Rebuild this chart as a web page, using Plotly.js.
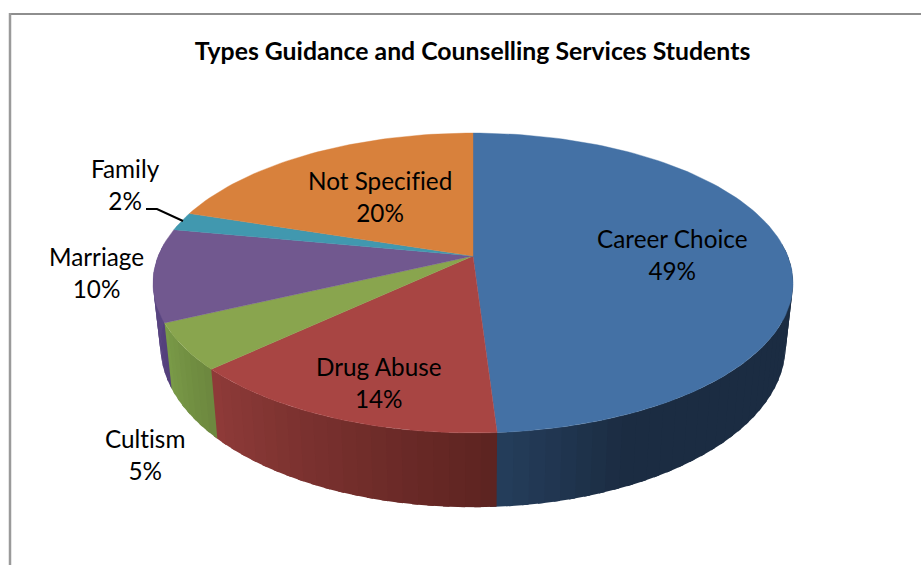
<!DOCTYPE html>
<html>
<head>
<meta charset="utf-8">
<script src="https://cdn.plot.ly/plotly-3.0.1.min.js"></script>
<style>
html,body{margin:0;padding:0;background:#fff}
#chart{width:921px;height:565px}
svg text{font-variant-ligatures:none;font-feature-settings:"liga" 0}
</style>
</head>
<body>
<div id="chart"></div>
<script>
// Survey shares, clockwise from twelve o'clock
const categories = ['Career Choice', 'Drug Abuse', 'Cultism', 'Marriage', 'Family', 'Not Specified'];
const shares = [49, 14, 5, 10, 2, 20];
const chartTitle = 'Types Guidance and Counselling Services Students';

// Slice colours: top face, then side wall at the start and end of each slice
const topColors = ['#4471a5', '#a84543', '#89a54e', '#71588f', '#4198af', '#d8813c'];
const wallStart = [[27, 44, 66], [92, 35, 32], [108, 135, 62], [84, 64, 124], [60, 130, 150], [180, 105, 45]];
const wallEnd = [[37, 62, 92], [143, 59, 57], [122, 155, 72], [92, 72, 132], [60, 130, 150], [180, 105, 45]];
// Fraction of each visible wall that stays flat before its shading ramp begins
const wallRamp = [0.78, 0, 0, 0, 0, 0];

// Label anchors in the chart's pixel-sized data space
const labelX = [672, 379, 145, 96, 125, 380];
const labelY = [254, 382, 454, 272, 184, 196];

// Oblique view of the disc: horizontal radius, vertical foreshortening and perspective
const centerX = 473, topY = 256, bottomY = 317;
const topRx = 314.8, topRy = 145.1, bottomRx = 307.5, bottomRy = 156, persp = 0.18;

function rim(deg, rx, ry, cy) {
  const t = deg * Math.PI / 180, u = Math.sin(t), v = -Math.cos(t), s = 1 / (1 - persp * v);
  return [centerX + rx * u * s, cy + ry * v * s];
}
const topRim = d => rim(d, topRx, topRy, topY);
const bottomRim = d => rim(d, bottomRx, bottomRy, bottomY);
const hex = c => `rgb(${c.map(Math.round).join(',')})`;

const traces = [];
function polygon(points, color, edge) {
  traces.push({
    type: 'scatter', mode: 'lines', fill: 'toself', fillcolor: color,
    x: points.map(p => p[0]), y: points.map(p => p[1]),
    line: { color: color, width: edge }, hoverinfo: 'skip', showlegend: false
  });
}

// Cumulative angle at the edges of each slice
const edges = [0];
shares.forEach((s, i) => edges.push(edges[i] + s * 3.6));

// Side wall as thin shaded strips that overlap the next one, so no seams show
const wallFrom = 85, wallTo = 275, stripDeg = 2.5, overlapDeg = 1;
shares.forEach((_, i) => {
  const a = Math.max(edges[i], wallFrom), b = Math.min(edges[i + 1], wallTo);
  if (b <= a) return;
  const n = Math.max(1, Math.ceil((b - a) / stripDeg));
  for (let k = 0; k < n; k++) {
    const d0 = a + (b - a) * k / n;
    const d1 = Math.min(a + (b - a) * (k + 1) / n + overlapDeg, wallTo);
    const f = Math.max(0, ((k + 0.5) / n - wallRamp[i]) / (1 - wallRamp[i]));
    const c = wallStart[i].map((v, j) => v + (wallEnd[i][j] - v) * f);
    const pts = [];
    for (let m = 0; m <= 3; m++) pts.push(topRim(d0 + (d1 - d0) * m / 3));
    for (let m = 3; m >= 0; m--) pts.push(bottomRim(d0 + (d1 - d0) * m / 3));
    pts.push(pts[0]);
    polygon(pts, hex(c), 0);
  }
});

// Top face of the disc
shares.forEach((_, i) => {
  const pts = [[centerX, topY]];
  const n = Math.ceil((edges[i + 1] - edges[i]) / 1.5);
  for (let k = 0; k <= n; k++) pts.push(topRim(edges[i] + (edges[i + 1] - edges[i]) * k / n));
  pts.push([centerX, topY]);
  polygon(pts, topColors[i], 0.4);
});

// Leader line for the small Family slice
traces.push({
  type: 'scatter', mode: 'lines', x: [146, 157, 183], y: [209, 209, 221],
  line: { color: '#000', width: 2 }, hoverinfo: 'skip', showlegend: false
});

const labelFont = { family: 'Lato, sans-serif', size: 24.3, color: '#000' };
const annotations = categories.map((name, i) => ({
  x: labelX[i], y: labelY[i], xref: 'x', yref: 'y', showarrow: false,
  text: `${name}<br>${shares[i]}%`, font: labelFont, align: 'center'
}));

const layout = {
  width: 921, height: 565,
  margin: { l: 0, r: 0, t: 0, b: 0 },
  paper_bgcolor: '#fff', plot_bgcolor: '#fff',
  showlegend: false,
  title: {
    text: `<b>${chartTitle}</b>`, x: 472.5 / 921, xanchor: 'center', y: 1 - 51 / 565, yanchor: 'middle',
    font: { family: 'Lato, sans-serif', size: 24.8, color: '#000' }
  },
  xaxis: { range: [0, 921], visible: false, fixedrange: true },
  yaxis: { range: [565, 0], visible: false, fixedrange: true },
  annotations,
  // Chart-area frame, open on the right and bottom edges
  shapes: [
    { type: 'line', xref: 'x', yref: 'y', x0: 9, x1: 921, y0: 14, y1: 14, line: { color: '#8e8e8e', width: 2 } },
    { type: 'line', xref: 'x', yref: 'y', x0: 10, x1: 10, y0: 13, y1: 565, line: { color: '#9a9a9a', width: 2.5 } }
  ]
};

Plotly.newPlot('chart', traces, layout, { displayModeBar: false, staticPlot: true });
</script>
</body>
</html>
